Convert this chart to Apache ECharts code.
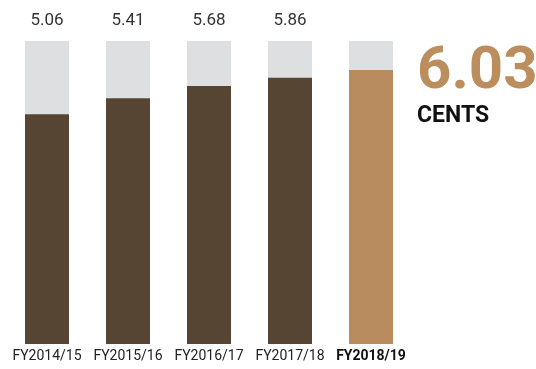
<!DOCTYPE html>
<html><head><meta charset="utf-8">
<script src="https://cdn.jsdelivr.net/npm/echarts@6/dist/echarts.min.js"></script>
<style>html,body{margin:0;padding:0;background:#fff}#c{width:536px;height:369px}</style>
</head><body><div id="c"></div>
<script>
const categories = ['FY2014/15','FY2015/16','FY2016/17','FY2017/18','FY2018/19'];
const values = [5.06, 5.41, 5.68, 5.86, 6.03];
const axisMax = 6.67;
const unitLabel = 'CENTS';

const dark = '#574533', tan = '#B88C5F', gray = '#DEDFE1';
const chart = echarts.init(document.getElementById('c'));
chart.setOption({
  animation: false,
  grid: {left: 6.5, right: 124.5, top: 41, bottom: 25},
  xAxis: {
    type: 'category', data: categories,
    axisLine: {show: false}, axisTick: {show: false},
    axisLabel: {
      interval: 0, hideOverlap: false,
      margin: 5, fontFamily: 'Roboto', fontSize: 14, color: '#222',
      formatter: (v, i) => i === categories.length - 1 ? '{b|' + v + '}' : v,
      rich: {b: {fontWeight: 'bold', fontFamily: 'Roboto', fontSize: 14, color: '#111'}}
    }
  },
  yAxis: {type: 'value', min: 0, max: axisMax, show: false},
  series: [
    {
      type: 'bar', barWidth: 44, barGap: '-100%', silent: true,
      data: values.map(() => axisMax),
      itemStyle: {color: gray},
      label: {
        show: true, position: 'top', distance: 12,
        fontFamily: 'Roboto', fontSize: 17, color: '#333',
        formatter: p => p.dataIndex === values.length - 1 ? '' : values[p.dataIndex].toFixed(2)
      },
      z: 1
    },
    {
      type: 'bar', barWidth: 44,
      data: values.map((v, i) => ({value: v, itemStyle: {color: i === values.length - 1 ? tan : dark}})),
      z: 2
    }
  ],
  graphic: [
    {type: 'text', left: 417, top: 43, style: {text: values[values.length - 1].toFixed(2), fill: '#BC8E5E', font: 'bold 60px Roboto, sans-serif'}},
    {type: 'text', left: 417, top: 105, style: {text: unitLabel, fill: '#111', font: 'bold 23px Roboto, sans-serif'}}
  ]
});
</script></body></html>
